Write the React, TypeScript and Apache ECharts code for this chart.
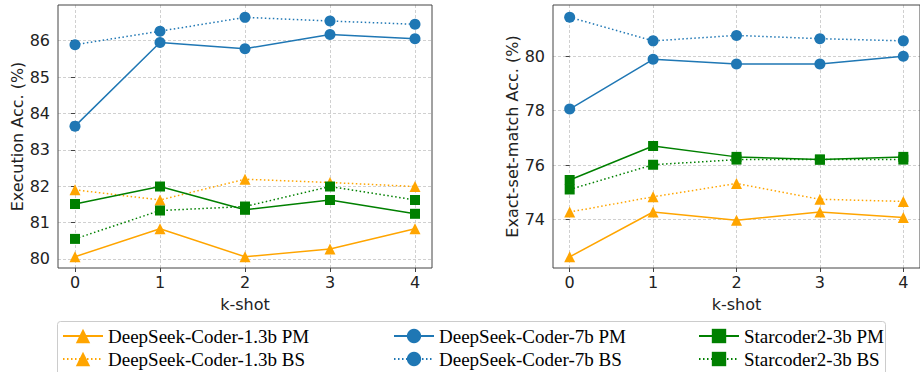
import React, { useEffect, useRef } from "react";
import * as echarts from "echarts";

const kShots = [0, 1, 2, 3, 4];
const leftTicks = [80, 81, 82, 83, 84, 85, 86];
const rightTicks = [74, 76, 78, 80];

const seriesNames = [
  "DeepSeek-Coder-1.3b PM",
  "DeepSeek-Coder-1.3b BS",
  "DeepSeek-Coder-7b PM",
  "DeepSeek-Coder-7b BS",
  "Starcoder2-3b PM",
  "Starcoder2-3b BS",
];

// Execution Acc. (%)
const execDs13PM = [80.06, 80.83, 80.06, 80.27, 80.83];
const execDs13BS = [81.9, 81.62, 82.19, 82.1, 81.99];
const execDs7PM = [83.65, 85.95, 85.78, 86.17, 86.05];
const execDs7BS = [85.89, 86.26, 86.64, 86.54, 86.45];
const execSc3PM = [81.51, 81.99, 81.35, 81.62, 81.24];
const execSc3BS = [80.55, 81.33, 81.44, 81.99, 81.62];

// Exact-set-match Acc. (%)
const esmDs13PM = [72.62, 74.27, 73.97, 74.27, 74.07];
const esmDs13BS = [74.27, 74.83, 75.32, 74.74, 74.66];
const esmDs7PM = [78.06, 79.89, 79.72, 79.72, 80.0];
const esmDs7BS = [81.44, 80.57, 80.77, 80.65, 80.57];
const esmSc3PM = [75.45, 76.7, 76.3, 76.2, 76.3];
const esmSc3BS = [75.1, 76.01, 76.2, 76.2, 76.2];

const execData = [execDs13PM, execDs13BS, execDs7PM, execDs7BS, execSc3PM, execSc3BS];
const esmData = [esmDs13PM, esmDs13BS, esmDs7PM, esmDs7BS, esmSc3PM, esmSc3BS];

const ORANGE = "#FFA500";
const BLUE = "#1f77b4";
const GREEN = "#008000";
const colors = [ORANGE, ORANGE, BLUE, BLUE, GREEN, GREEN];
const symbols = ["triangle", "triangle", "circle", "circle", "rect", "rect"];
const symbolSizes = [11, 11, 11, 11, 10, 10];
const dotted = [1.5, 2.5];

const FONT = "DejaVu Sans";
const TEXT = "#222";
const FRAME = "#444";

function makeSeries(data: number[][], axisIndex: number) {
  return data.map((vals, i) => ({
    name: seriesNames[i],
    type: "line",
    xAxisIndex: axisIndex,
    yAxisIndex: axisIndex,
    data: kShots.map((k, j) => [k, vals[j]]),
    symbol: symbols[i],
    symbolSize: symbolSizes[i],
    showSymbol: true,
    color: colors[i],
    itemStyle: { color: colors[i] },
    lineStyle: {
      color: colors[i],
      width: 1.5,
      type: i % 2 === 1 ? dotted : "solid",
    },
    emphasis: { disabled: true },
    z: 2 + i,
  }));
}

function xAxisCfg(gridIndex: number) {
  return {
    type: "value",
    gridIndex,
    min: -0.2,
    max: 4.2,
    minInterval: 1,
    maxInterval: 1,
    name: "k-shot",
    nameLocation: "middle",
    nameGap: 28,
    nameTextStyle: { fontFamily: FONT, fontSize: 16, color: TEXT },
    axisLine: { show: false },
    axisTick: {
      show: true,
      inside: false,
      length: 4,
      customValues: kShots,
      lineStyle: { color: FRAME, width: 1 },
    },
    axisLabel: {
      customValues: kShots,
      margin: 6,
      fontFamily: FONT,
      fontSize: 16,
      color: TEXT,
    },
    splitLine: {
      show: true,
      lineStyle: { color: "#c4c4c4", width: 0.8, type: [3, 2] },
    },
  };
}

function yAxisCfg(gridIndex: number, name: string, min: number, max: number, step: number, ticks: number[], gap: number) {
  return {
    type: "value",
    gridIndex,
    min,
    max,
    minInterval: step,
    maxInterval: step,
    name,
    nameLocation: "middle",
    nameGap: gap,
    nameTextStyle: { fontFamily: FONT, fontSize: 16, color: TEXT },
    axisLine: { show: false },
    axisTick: {
      show: true,
      inside: false,
      length: 4,
      customValues: ticks,
      lineStyle: { color: FRAME, width: 1 },
    },
    axisLabel: {
      customValues: ticks,
      margin: 8,
      fontFamily: FONT,
      fontSize: 16,
      color: TEXT,
    },
    splitLine: {
      show: true,
      lineStyle: { color: "#c4c4c4", width: 0.8, type: [3, 2] },
    },
  };
}

function legendCfg(left: number, names: string[]) {
  return {
    show: true,
    orient: "vertical",
    left,
    top: 326,
    padding: 0,
    itemGap: 3,
    itemWidth: 40,
    itemHeight: 18,
    data: names,
    selectedMode: false,
    z: 10,
    textStyle: {
      fontFamily: "Liberation Serif",
      fontSize: 19,
      lineHeight: 20,
      color: "#000",
    },
  };
}

export default function App() {
  const ref = useRef<HTMLDivElement>(null);

  useEffect(() => {
    if (!ref.current) return;
    const chart = echarts.init(ref.current, undefined, { renderer: "svg" });
    chart.setOption({
      animation: false,
      backgroundColor: "#ffffff",
      grid: [
        { left: 58, top: 5, width: 374, height: 263, show: true, borderColor: FRAME, borderWidth: 1, z: 20 },
        { left: 553, top: 5, width: 372, height: 263, show: true, borderColor: FRAME, borderWidth: 1, z: 20 },
      ],
      xAxis: [xAxisCfg(0), xAxisCfg(1)],
      yAxis: [
        yAxisCfg(0, "Execution Acc. (%)", 79.75, 86.98, 1, leftTicks, 32),
        yAxisCfg(1, "Exact-set-match Acc. (%)", 72.21, 81.89, 2, rightTicks, 33),
      ],
      legend: [
        legendCfg(62, [seriesNames[0], seriesNames[1]]),
        legendCfg(393, [seriesNames[2], seriesNames[3]]),
        legendCfg(698, [seriesNames[4], seriesNames[5]]),
      ],
      graphic: [
        {
          type: "rect",
          z: 1,
          shape: { x: 57.5, y: 321.5, width: 828, height: 80, r: 3 },
          style: { fill: "#ffffff", stroke: "#cccccc", lineWidth: 1 },
        },
      ],
      series: [...makeSeries(execData, 0), ...makeSeries(esmData, 1)],
    });
    return () => chart.dispose();
  }, []);

  return (
    <div
      ref={ref}
      style={{ position: "fixed", left: 0, top: 0, width: 920, height: 372, background: "#fff" }}
    />
  );
}
